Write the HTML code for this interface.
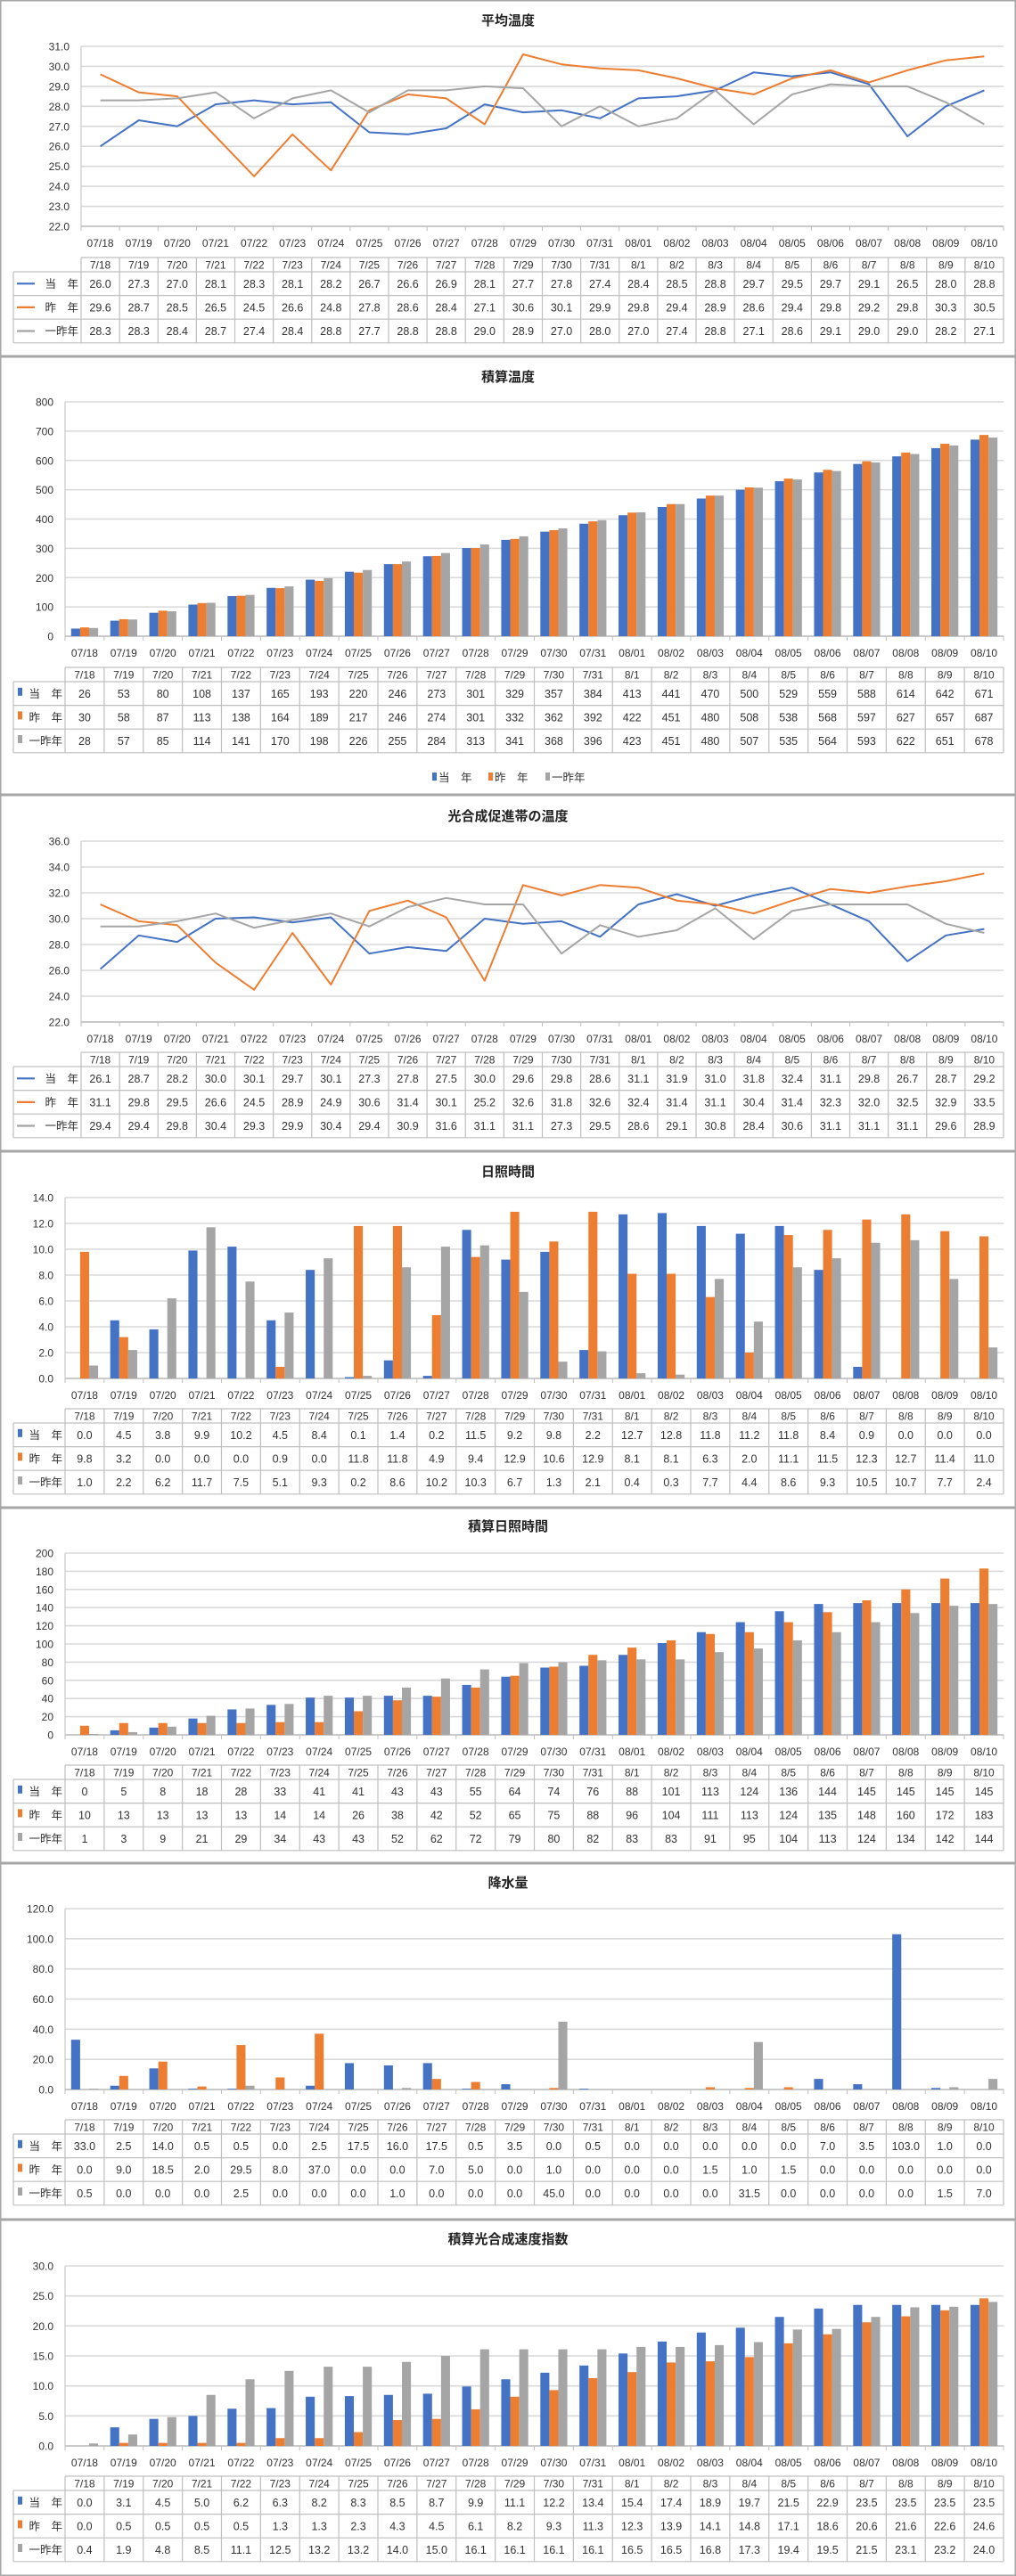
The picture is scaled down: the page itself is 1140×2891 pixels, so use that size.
<!DOCTYPE html>
<html><head><meta charset="utf-8"><title>気象データ</title>
<style>
html,body{margin:0;padding:0;background:#fff;}
svg{display:block;font-family:"Liberation Sans","Noto Sans CJK JP",sans-serif;}
</style></head>
<body>
<svg id="chart" width="1140" height="2891" viewBox="0 0 1140 2891" xmlns="http://www.w3.org/2000/svg"></svg>
<script>
const dateLabels=["07/18","07/19","07/20","07/21","07/22","07/23","07/24","07/25","07/26","07/27","07/28","07/29","07/30","07/31","08/01","08/02","08/03","08/04","08/05","08/06","08/07","08/08","08/09","08/10"];
const headerLabels=["7/18","7/19","7/20","7/21","7/22","7/23","7/24","7/25","7/26","7/27","7/28","7/29","7/30","7/31","8/1","8/2","8/3","8/4","8/5","8/6","8/7","8/8","8/9","8/10"];
const seriesNames=["当　年","昨　年","一昨年"];

const avgTempCur=[26.0,27.3,27.0,28.1,28.3,28.1,28.2,26.7,26.6,26.9,28.1,27.7,27.8,27.4,28.4,28.5,28.8,29.7,29.5,29.7,29.1,26.5,28.0,28.8];
const avgTempPrev=[29.6,28.7,28.5,26.5,24.5,26.6,24.8,27.8,28.6,28.4,27.1,30.6,30.1,29.9,29.8,29.4,28.9,28.6,29.4,29.8,29.2,29.8,30.3,30.5];
const avgTempPrev2=[28.3,28.3,28.4,28.7,27.4,28.4,28.8,27.7,28.8,28.8,29.0,28.9,27.0,28.0,27.0,27.4,28.8,27.1,28.6,29.1,29.0,29.0,28.2,27.1];

const accTempCur=[26,53,80,108,137,165,193,220,246,273,301,329,357,384,413,441,470,500,529,559,588,614,642,671];
const accTempPrev=[30,58,87,113,138,164,189,217,246,274,301,332,362,392,422,451,480,508,538,568,597,627,657,687];
const accTempPrev2=[28,57,85,114,141,170,198,226,255,284,313,341,368,396,423,451,480,507,535,564,593,622,651,678];

const photoTempCur=[26.1,28.7,28.2,30.0,30.1,29.7,30.1,27.3,27.8,27.5,30.0,29.6,29.8,28.6,31.1,31.9,31.0,31.8,32.4,31.1,29.8,26.7,28.7,29.2];
const photoTempPrev=[31.1,29.8,29.5,26.6,24.5,28.9,24.9,30.6,31.4,30.1,25.2,32.6,31.8,32.6,32.4,31.4,31.1,30.4,31.4,32.3,32.0,32.5,32.9,33.5];
const photoTempPrev2=[29.4,29.4,29.8,30.4,29.3,29.9,30.4,29.4,30.9,31.6,31.1,31.1,27.3,29.5,28.6,29.1,30.8,28.4,30.6,31.1,31.1,31.1,29.6,28.9];

const sunCur=[0.0,4.5,3.8,9.9,10.2,4.5,8.4,0.1,1.4,0.2,11.5,9.2,9.8,2.2,12.7,12.8,11.8,11.2,11.8,8.4,0.9,0.0,0.0,0.0];
const sunPrev=[9.8,3.2,0.0,0.0,0.0,0.9,0.0,11.8,11.8,4.9,9.4,12.9,10.6,12.9,8.1,8.1,6.3,2.0,11.1,11.5,12.3,12.7,11.4,11.0];
const sunPrev2=[1.0,2.2,6.2,11.7,7.5,5.1,9.3,0.2,8.6,10.2,10.3,6.7,1.3,2.1,0.4,0.3,7.7,4.4,8.6,9.3,10.5,10.7,7.7,2.4];

const accSunCur=[0,5,8,18,28,33,41,41,43,43,55,64,74,76,88,101,113,124,136,144,145,145,145,145];
const accSunPrev=[10,13,13,13,13,14,14,26,38,42,52,65,75,88,96,104,111,113,124,135,148,160,172,183];
const accSunPrev2=[1,3,9,21,29,34,43,43,52,62,72,79,80,82,83,83,91,95,104,113,124,134,142,144];

const rainCur=[33.0,2.5,14.0,0.5,0.5,0.0,2.5,17.5,16.0,17.5,0.5,3.5,0.0,0.5,0.0,0.0,0.0,0.0,0.0,7.0,3.5,103.0,1.0,0.0];
const rainPrev=[0.0,9.0,18.5,2.0,29.5,8.0,37.0,0.0,0.0,7.0,5.0,0.0,1.0,0.0,0.0,0.0,1.5,1.0,1.5,0.0,0.0,0.0,0.0,0.0];
const rainPrev2=[0.5,0.0,0.0,0.0,2.5,0.0,0.0,0.0,1.0,0.0,0.0,0.0,45.0,0.0,0.0,0.0,0.0,31.5,0.0,0.0,0.0,0.0,1.5,7.0];

const photoIdxCur=[0.0,3.1,4.5,5.0,6.2,6.3,8.2,8.3,8.5,8.7,9.9,11.1,12.2,13.4,15.4,17.4,18.9,19.7,21.5,22.9,23.5,23.5,23.5,23.5];
const photoIdxPrev=[0.0,0.5,0.5,0.5,0.5,1.3,1.3,2.3,4.3,4.5,6.1,8.2,9.3,11.3,12.3,13.9,14.1,14.8,17.1,18.6,20.6,21.6,22.6,24.6];
const photoIdxPrev2=[0.4,1.9,4.8,8.5,11.1,12.5,13.2,13.2,14.0,15.0,16.1,16.1,16.1,16.1,16.5,16.5,16.8,17.3,19.4,19.5,21.5,23.1,23.2,24.0];

const NS='http://www.w3.org/2000/svg';
const svg=document.getElementById('chart');
const colors=['#4472c4','#ed7d31','#a5a5a5'];
function mk(tag,attrs,parent){const e=document.createElementNS(NS,tag);for(const k in attrs)e.setAttribute(k,attrs[k]);(parent||svg).appendChild(e);return e;}

function drawChart(cfg){
  const g=mk('g',{});
  
  
  const box=mk('rect',{x:0.5,y:cfg.top+0.5,width:1139,height:cfg.bottom-cfg.top-1,fill:'#fff',stroke:'#a6a6a6','stroke-width':2},g);
  
  
  const t=mk('text',{x:570,y:cfg.top+cfg.titleOff,'text-anchor':'middle','font-size':15,'font-weight':'bold',fill:'#222'},g);
  t.textContent=cfg.title;
  
  
  const L=cfg.left,R=1126,PT=cfg.plotTop,PB=cfg.plotBottom;
  const n=dateLabels.length,bw=(R-L)/n;
  const yS=v=>PB-(v-cfg.yMin)/(cfg.yMax-cfg.yMin)*(PB-PT);
  const xC=i=>L+bw*(i+0.5);
  // grid & y ticks
  for(let v=cfg.yMin;v<=cfg.yMax+1e-9;v+=cfg.yStep){
    const y=yS(v);
    const gl=mk('line',{x1:L,x2:R,y1:y,y2:y,stroke:'#d9d9d9','stroke-width':1.6},g);
    
    
    const tl=mk('text',{x:L-13,y:y+4.5,'text-anchor':'end','font-size':12,fill:'#333'},g);
    tl.textContent=v.toFixed(cfg.dec);
    
    
  }
  const ax=mk('line',{x1:L,x2:R,y1:PB,y2:PB,stroke:'#bfbfbf','stroke-width':1.5},g);
  
  
  const yax=mk('line',{x1:L,x2:L,y1:PT,y2:PB,stroke:'#bfbfbf','stroke-width':1},g);
  
  
  for(let i=0;i<=n;i++){
    const tk=mk('line',{x1:L+bw*i,x2:L+bw*i,y1:PB,y2:PB+5,stroke:'#bfbfbf','stroke-width':1},g);
    
    
  }
  for(let i=0;i<n;i++){
    const dl=mk('text',{x:xC(i),y:PB+23,'text-anchor':'middle','font-size':12,fill:'#333'},g);
    dl.textContent=dateLabels[i];
    
    
  }
  // marks
  if(cfg.type==='line'){
    cfg.series.forEach((s,k)=>{
      const pts=s.map((v,i)=>xC(i).toFixed(1)+','+yS(v).toFixed(1)).join(' ');
      const pl=mk('polyline',{points:pts,fill:'none',stroke:colors[k],'stroke-width':2,'stroke-linejoin':'round'},g);
      
      
    });
  }else{
    const w=bw*0.23;
    cfg.series.forEach((s,k)=>{
      s.forEach((v,i)=>{
        const y=yS(v);
        const r=mk('rect',{x:xC(i)-1.5*w+k*w,y:y,width:w,height:Math.max(0,PB-y),fill:colors[k]},g);
        
        
      });
    });
  }
  // table
  const TT=cfg.tableTop,HH=16,RH=26.6,TL=15;
  const tb=mk('g',{},g);
  
  
  const st={stroke:'#bfbfbf','stroke-width':1.2};
  const yEnd=TT+HH+3*RH;
  mk('line',Object.assign({x1:L,x2:R,y1:TT,y2:TT},st),tb);
  mk('line',Object.assign({x1:TL,x2:R,y1:TT+HH,y2:TT+HH},st),tb);
  for(let r=1;r<=3;r++)mk('line',Object.assign({x1:TL,x2:R,y1:TT+HH+r*RH,y2:TT+HH+r*RH},st),tb);
  mk('line',Object.assign({x1:TL,x2:TL,y1:TT+HH,y2:yEnd},st),tb);
  for(let i=0;i<=n;i++)mk('line',Object.assign({x1:L+bw*i,x2:L+bw*i,y1:TT,y2:yEnd},st),tb);
  for(let i=0;i<n;i++){
    const h=mk('text',{x:xC(i),y:TT+12.5,'text-anchor':'middle','font-size':12,fill:'#333'},tb);
    h.textContent=headerLabels[i];
    
    
  }
  cfg.series.forEach((s,k)=>{
    const cy=TT+HH+RH*k+RH/2+4.5;
    if(cfg.type==='line'){
      const sw=mk('line',{x1:TL+4,x2:TL+24,y1:cy-4.5,y2:cy-4.5,stroke:colors[k],'stroke-width':2.2},tb);
      
      
    }else{
      const sw=mk('rect',{x:TL+5,y:cy-11,width:5,height:9,fill:colors[k]},tb);
      
      
    }
    const lb=mk('text',{x:L-3,y:cy,'text-anchor':'end','font-size':12.5,fill:'#333'},tb);
    lb.textContent=seriesNames[k];
    
    
    s.forEach((v,i)=>{
      const c=mk('text',{x:xC(i),y:cy,'text-anchor':'middle','font-size':12.5,fill:'#333'},tb);
      c.textContent=v.toFixed(cfg.dec);
      
      
    });
  });
  if(cfg.legendY){
    const lg=mk('g',{},g);
    
    
    const xs=[485,548,612];
    seriesNames.forEach((nm,k)=>{
      const sq=mk('rect',{x:xs[k],y:cfg.legendY-10,width:5,height:9,fill:colors[k]},lg);
      
      
      const tx=mk('text',{x:xs[k]+7,y:cfg.legendY,'font-size':12.5,fill:'#333'},lg);
      tx.textContent=nm;
      
      
    });
  }
}

drawChart({name:'average-temperature',title:'平均温度',type:'line',top:0,bottom:400,titleOff:28,left:91,plotTop:52,plotBottom:254,yMin:22,yMax:31,yStep:1,dec:1,tableTop:289,series:[avgTempCur,avgTempPrev,avgTempPrev2]});
drawChart({name:'accumulated-temperature',title:'積算温度',type:'bar',top:400,bottom:892,titleOff:28,left:73,plotTop:451,plotBottom:714,yMin:0,yMax:800,yStep:100,dec:0,tableTop:749,legendY:877,series:[accTempCur,accTempPrev,accTempPrev2]});
drawChart({name:'photosynthesis-temperature',title:'光合成促進帯の温度',type:'line',top:892,bottom:1292,titleOff:29,left:91,plotTop:944,plotBottom:1147,yMin:22,yMax:36,yStep:2,dec:1,tableTop:1181,series:[photoTempCur,photoTempPrev,photoTempPrev2]});
drawChart({name:'sunshine-hours',title:'日照時間',type:'bar',top:1292,bottom:1692,titleOff:28,left:73,plotTop:1344,plotBottom:1547,yMin:0,yMax:14,yStep:2,dec:1,tableTop:1581,series:[sunCur,sunPrev,sunPrev2]});
drawChart({name:'accumulated-sunshine',title:'積算日照時間',type:'bar',top:1692,bottom:2091,titleOff:26,left:73,plotTop:1743,plotBottom:1947,yMin:0,yMax:200,yStep:20,dec:0,tableTop:1981,series:[accSunCur,accSunPrev,accSunPrev2]});
drawChart({name:'precipitation',title:'降水量',type:'bar',top:2091,bottom:2491,titleOff:27,left:73,plotTop:2142,plotBottom:2345,yMin:0,yMax:120,yStep:20,dec:1,tableTop:2379,series:[rainCur,rainPrev,rainPrev2]});
drawChart({name:'photosynthesis-index',title:'積算光合成速度指数',type:'bar',top:2491,bottom:2891,titleOff:27,left:73,plotTop:2543,plotBottom:2745,yMin:0,yMax:30,yStep:5,dec:1,tableTop:2779,series:[photoIdxCur,photoIdxPrev,photoIdxPrev2]});
</script>
</body></html>
